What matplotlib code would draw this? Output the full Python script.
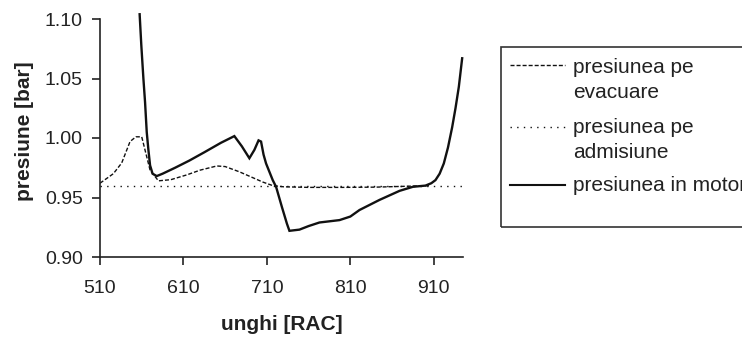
import matplotlib
matplotlib.use("Agg")
import matplotlib.pyplot as plt
from matplotlib.lines import Line2D
from matplotlib.patches import Rectangle

plt.rcParams['font.family'] = ['Liberation Sans', 'DejaVu Sans']

# exhaust-side pressure
evac_angle = [510, 526, 536, 546, 553, 560, 570, 580, 595, 614, 630, 650, 660,
              677, 692, 705, 717, 730, 760, 800, 840, 870, 905]
evac_p = [0.962, 0.970, 0.979, 0.997, 1.001, 1.001, 0.973, 0.964, 0.965, 0.969,
          0.973, 0.9765, 0.976, 0.9716, 0.967, 0.963, 0.960, 0.959, 0.9585,
          0.9585, 0.9587, 0.9593, 0.960]

# intake-side pressure (constant)
adm_angle = [510, 945]
adm_p = [0.96, 0.96]

# in-cylinder pressure
motor_angle = [557.5, 559.5, 562, 564, 566, 568, 570, 573, 578, 585, 600, 617,
               635, 655, 671, 680, 689, 695, 700, 703, 706, 709, 717, 721, 728,
               734, 737, 749, 760, 773, 797, 810, 821, 845, 869, 885, 900, 907,
               912, 917, 922, 927, 932, 936, 940, 944]
motor_p = [1.104, 1.078, 1.050, 1.030, 1.005, 0.990, 0.977, 0.970, 0.968, 0.970,
           0.975, 0.981, 0.988, 0.996, 1.0016, 0.993, 0.983, 0.990, 0.998, 0.997,
           0.986, 0.9786, 0.9646, 0.959, 0.942, 0.928, 0.922, 0.923, 0.926, 0.929,
           0.931, 0.934, 0.9395, 0.948, 0.9556, 0.959, 0.960, 0.962, 0.9646,
           0.970, 0.9786, 0.992, 1.009, 1.025, 1.043, 1.067]

x_ticks = [510, 610, 710, 810, 910]
y_ticks = [0.90, 0.95, 1.00, 1.05, 1.10]
y_tick_labels = ["0.90", "0.95", "1.00", "1.05", "1.10"]
legend_labels = [["presiunea pe", "evacuare"],
                 ["presiunea pe", "admisiune"],
                 ["presiunea in motor"]]

W, H = 742, 338
fig = plt.figure(figsize=(W / 100, H / 100), dpi=100)
ax = fig.add_axes([100 / W, 1 - 257 / H, 363 / W, 238 / H])

ink = '#111111'
dash_style = (0, (2.9, 1.45))
dot_style = (0, (1.0, 3.8))

ax.plot(evac_angle, evac_p, color=ink, lw=1.0, linestyle=dash_style)
ax.plot(adm_angle, adm_p, color=ink, lw=1.0, linestyle=dot_style)
ax.plot(motor_angle, motor_p, color=ink, lw=1.7, clip_on=False,
        solid_joinstyle='miter')

ax.set_xlim(510, 945)
ax.set_ylim(0.90, 1.10)
ax.set_xticks(x_ticks)
ax.set_yticks(y_ticks)
ax.set_yticklabels(y_tick_labels)
for s in ['top', 'right']:
    ax.spines[s].set_visible(False)
for s in ['left', 'bottom']:
    ax.spines[s].set_linewidth(1.2)
    ax.spines[s].set_color('#222222')
ax.tick_params(axis='both', direction='out', length=5.5, width=1.2,
               color='#222222', labelsize=14, labelcolor='#222222')
ax.tick_params(axis='x', pad=11)
ax.tick_params(axis='y', pad=7)

fig.text(282 / W, 1 - 325 / H, "unghi [RAC]", ha='center', va='center',
         fontsize=15, fontweight='bold', color='#222222')
fig.text(24 / W, 1 - 131 / H, "presiune [bar]", ha='center', va='center',
         rotation=90, fontsize=15, fontweight='bold', color='#222222')

# legend box, drawn in figure pixels
def fx(px):
    return px / W

def fy(py):
    return 1 - py / H

fig.add_artist(Rectangle((fx(500.7), fy(226.7)), fx(300), (226.7 - 47.3) / H,
                         transform=fig.transFigure, fill=False,
                         edgecolor='#333333', lw=1.2))
handle_y = [65, 126.7, 185]
baselines = [[73.3, 97.7], [133.3, 157.7], [190.7]]
styles = [(dash_style, 1.0), (dot_style, 1.0), ('-', 1.5)]
for hy, (ls, lw), lines, bls in zip(handle_y, styles, legend_labels, baselines):
    fig.add_artist(Line2D([fx(510), fx(565)], [fy(hy), fy(hy)],
                          transform=fig.transFigure, color=ink, lw=lw,
                          linestyle=ls))
    for txt, bl in zip(lines, bls):
        fig.text(fx(573), fy(bl), txt, ha='left', va='baseline',
                 fontsize=15, color='#222222')

fig.savefig("out.png", dpi=100)
